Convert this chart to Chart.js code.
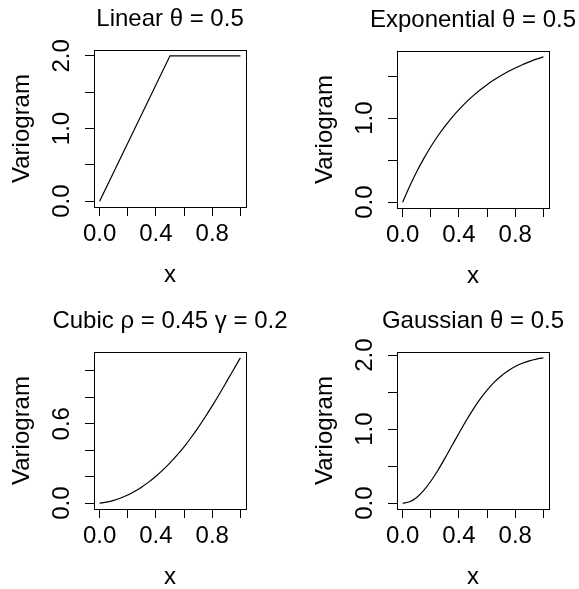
<!DOCTYPE html>
<html>
<head>
<meta charset="utf-8">
<script src="https://cdn.jsdelivr.net/npm/chart.js@4.4.1/dist/chart.umd.min.js"></script>
<style>
  html, body { margin: 0; padding: 0; background: #fff; width: 579px; height: 589px; overflow: hidden; }
  canvas { position: absolute; }
</style>
</head>
<body>
<canvas id="linearChart"></canvas>
<canvas id="expChart"></canvas>
<canvas id="cubicChart"></canvas>
<canvas id="gaussChart"></canvas>
<script>
// values
const linearX = [0, 0.5, 1.0];
const linearVals = [0, 2.0, 2.0];

const xValues = [0, 0.05, 0.1, 0.15, 0.2, 0.25, 0.3, 0.35, 0.4, 0.45, 0.5,
                 0.55, 0.6, 0.65, 0.7, 0.75, 0.8, 0.85, 0.9, 0.95, 1.0];
const expVals = [0, 0.190, 0.363, 0.518, 0.659, 0.787, 0.902, 1.007, 1.101, 1.187, 1.264,
                 1.334, 1.398, 1.455, 1.507, 1.554, 1.596, 1.635, 1.669, 1.701, 1.729];
const cubicVals = [0, 0.008, 0.021, 0.039, 0.062, 0.090, 0.123, 0.161, 0.204, 0.252, 0.305,
                   0.363, 0.426, 0.496, 0.571, 0.651, 0.735, 0.823, 0.914, 1.006, 1.098];
const gaussVals = [0, 0.020, 0.078, 0.172, 0.296, 0.442, 0.605, 0.775, 0.945, 1.110, 1.264,
                   1.404, 1.526, 1.631, 1.718, 1.789, 1.845, 1.889, 1.922, 1.946, 1.963];

const xTicks = [0, 0.2, 0.4, 0.6, 0.8, 1.0];
const xTickLabels = ['0.0', '', '0.4', '', '0.8', ''];

const linearYTicks = [0, 0.5, 1.0, 1.5, 2.0];
const linearYLabels = ['0.0', '', '1.0', '', '2.0'];
const expYTicks = [0, 0.5, 1.0, 1.5];
const expYLabels = ['0.0', '', '1.0', ''];
const cubicYTicks = [0, 0.2, 0.4, 0.6, 0.8, 1.0];
const cubicYLabels = ['0.0', '', '', '0.6', '', ''];
const gaussYTicks = [0, 0.5, 1.0, 1.5, 2.0];
const gaussYLabels = ['0.0', '', '1.0', '', '2.0'];

const FONT = '"Liberation Sans", Arial, Helvetica, sans-serif';
const FS = 24;
const LH = FS * 1.2;
const SIDE = 88;     // y axis width (mirrored on the right so the title stays centred)
const TOP = 45;      // title block
const BOTTOM = 88;   // x axis block
const BOX_W = 152, BOX_H = 157;

// draws the R style box round the plot region
const boxPlugin = {
    id: 'box',
    afterDraw(chart) {
        const a = chart.chartArea;
        const ctx = chart.ctx;
        ctx.save();
        ctx.strokeStyle = '#000';
        ctx.lineWidth = 1;
        ctx.strokeRect(a.left + 0.5, a.top + 0.5, a.right - a.left, a.bottom - a.top);
        ctx.restore();
    }
};

function padRange(vals) {
    const lo = Math.min(...vals), hi = Math.max(...vals);
    const ext = (hi - lo) * 0.04;
    return [lo - ext, hi + ext];
}

function makePanel(id, title, xs, ys, yTicks, yLabels, boxLeft, boxTop, smooth) {
    const canvas = document.getElementById(id);
    canvas.width = BOX_W + 2 * SIDE;
    canvas.height = TOP + BOX_H + BOTTOM;
    canvas.style.left = (boxLeft - SIDE) + 'px';
    canvas.style.top = (boxTop - TOP) + 'px';

    const [xmin, xmax] = padRange(xs);
    const [ymin, ymax] = padRange(ys);

    return new Chart(canvas.getContext('2d'), {
        type: 'line',
        data: {
            datasets: [{
                data: xs.map((x, i) => ({ x: x, y: ys[i] })),
                borderColor: '#000',
                borderWidth: 1.2,
                pointRadius: 0,
                fill: false,
                tension: 0,
                cubicInterpolationMode: smooth ? 'monotone' : 'default'
            }]
        },
        options: {
            responsive: false,
            animation: false,
            events: [],
            layout: { padding: 0 },
            plugins: {
                legend: { display: false },
                tooltip: { enabled: false },
                title: {
                    display: true,
                    text: title,
                    color: '#000',
                    font: { family: FONT, size: FS, weight: 'normal' },
                    padding: { top: 0, bottom: TOP - LH }
                }
            },
            scales: {
                x: {
                    type: 'linear',
                    min: xmin,
                    max: xmax,
                    afterBuildTicks: axis => { axis.ticks = xTicks.map(v => ({ value: v })); },
                    afterFit: axis => { axis.height = BOTTOM; },
                    grid: { drawOnChartArea: false, tickLength: 9, tickColor: '#000', tickWidth: 1 },
                    border: { display: false },
                    ticks: {
                        autoSkip: false,
                        maxRotation: 0,
                        padding: 4,
                        color: '#000',
                        font: { family: FONT, size: FS },
                        callback: (v, i) => xTickLabels[i]
                    },
                    title: {
                        display: true,
                        text: 'x',
                        color: '#000',
                        font: { family: FONT, size: FS },
                        padding: { top: 0, bottom: 5 }
                    }
                },
                y: {
                    type: 'linear',
                    position: 'left',
                    min: ymin,
                    max: ymax,
                    afterBuildTicks: axis => { axis.ticks = yTicks.map(v => ({ value: v })); },
                    afterFit: axis => { axis.width = SIDE; },
                    grid: { drawOnChartArea: false, tickLength: 9, tickColor: '#000', tickWidth: 1 },
                    border: { display: false },
                    ticks: {
                        autoSkip: false,
                        minRotation: 90,
                        maxRotation: 90,
                        crossAlign: 'center',
                        padding: 6,
                        color: '#000',
                        font: { family: FONT, size: FS },
                        callback: (v, i) => yLabels[i]
                    },
                    title: {
                        display: true,
                        text: 'Variogram',
                        color: '#000',
                        font: { family: FONT, size: FS },
                        padding: { top: 2, bottom: 0 }
                    }
                },
                yRight: {
                    type: 'linear',
                    position: 'right',
                    afterFit: axis => { axis.width = SIDE; },
                    grid: { display: false },
                    border: { display: false },
                    ticks: { display: false }
                }
            }
        },
        plugins: [boxPlugin]
    });
}

makePanel('linearChart', 'Linear θ = 0.5', linearX, linearVals, linearYTicks, linearYLabels, 94, 50, false);
makePanel('expChart', 'Exponential θ = 0.5', xValues, expVals, expYTicks, expYLabels, 397, 51, true);
makePanel('cubicChart', 'Cubic ρ = 0.45 γ = 0.2', xValues, cubicVals, cubicYTicks, cubicYLabels, 94, 352, true);
makePanel('gaussChart', 'Gaussian θ = 0.5', xValues, gaussVals, gaussYTicks, gaussYLabels, 397, 352, true);
</script>
</body>
</html>
